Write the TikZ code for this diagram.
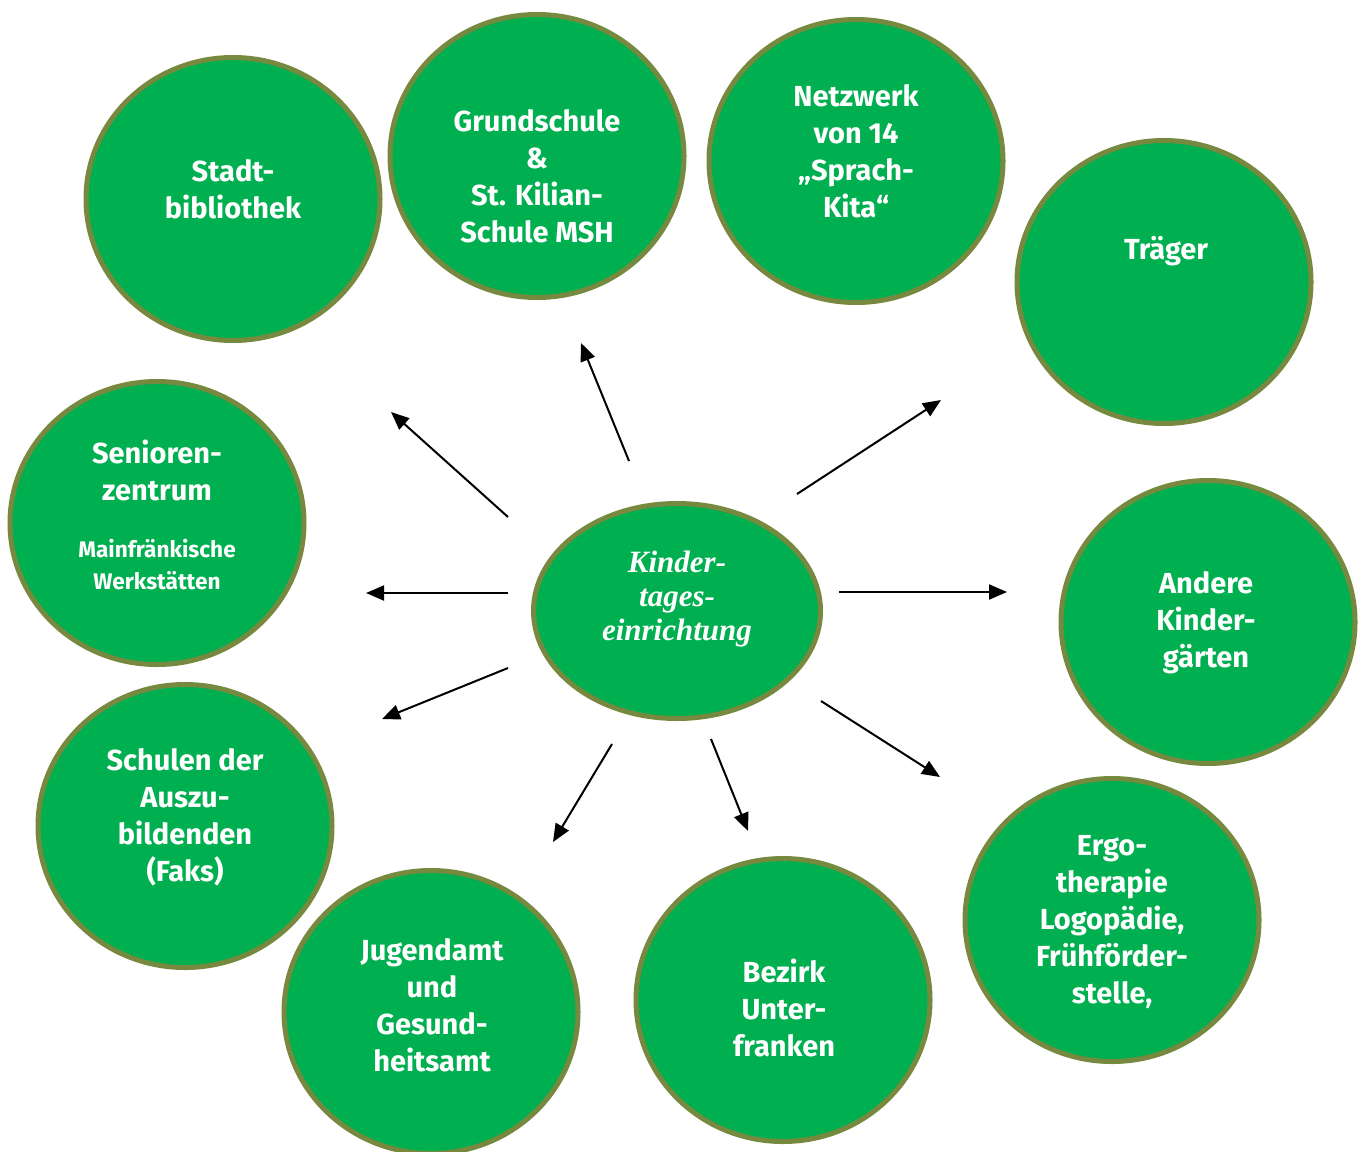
\documentclass[tikz,border=0pt]{standalone}
\usepackage{fontspec}
\setmainfont{Fira Sans}
\newfontfamily\centerfont{Liberation Serif}[BoldItalicFont={Liberation Serif Bold Italic}]
\usetikzlibrary{arrows.meta,shapes.geometric}
\definecolor{disc}{RGB}{0,176,80}
\definecolor{rim}{RGB}{118,137,62}
\tikzset{
  partner/.style={ellipse, fill=disc, draw=rim, line width=2.5pt, inner sep=0pt,
                  minimum width=147pt, minimum height=141.5pt},
  hub/.style={ellipse, fill=disc, draw=rim, line width=2.5pt, inner sep=0pt,
              minimum width=143.5pt, minimum height=107.5pt},
  ptext/.style={text=white, align=center, inner sep=0pt,
                font=\bfseries\fontsize{14.5}{18.5}\selectfont},
  smalltext/.style={text=white, align=center, inner sep=0pt,
                font=\bfseries\fontsize{11.3}{16}\selectfont},
  hubtext/.style={text=white, align=center, inner sep=0pt,
                font=\centerfont\bfseries\itshape\fontsize{15.5}{17.2}\selectfont},
  link/.style={line width=1pt, -{Triangle[length=9pt,width=7.5pt]}}
}
\begin{document}
\begin{tikzpicture}[x=0.5pt,y=-0.5pt]
\useasboundingbox (0,0) rectangle (1368,1151);
\fill[white] (0,0) rectangle (1368,1151);
\clip (0,0) rectangle (1368,1151);

% partner discs
\node[partner] (bib)   at (233,199)  {};
\node[partner] (gs)    at (537,156)  {};
\node[partner] (netz)  at (856,161)  {};
\node[partner] (trae)  at (1164,282) {};
\node[partner] (sen)   at (157,523)  {};
\node[partner] (andk)  at (1208,622) {};
\node[partner] (schul) at (185,826)  {};
\node[partner] (jug)   at (431,1012) {};
\node[partner] (bez)   at (783,1000) {};
\node[partner] (ergo)  at (1112,920) {};

% central institution
\node[hub] (kita) at (677,611) {};
\node[hubtext] (kitaT) at (677,599) {Kinder-\\tages-\\einrichtung};

% partner captions
\node[ptext] (bibT)   at (233,189)  {Stadt-\\bibliothek};
\node[ptext] (gsT)    at (537,176)  {Grundschule\\\&\\St. Kilian-\\Schule MSH};
\node[ptext] (netzT)  at (856,151)  {Netzwerk\\von 14\\„Sprach-\\Kita“};
\node[ptext] (traeT)  at (1166,251) {Träger};
\node[ptext] (senT)   at (157,470)  {Senioren-\\zentrum};
\node[smalltext] (werkT) at (157,565) {Mainfränkische\\Werkstätten};
\node[ptext] (andkT)  at (1206,623) {Andere\\Kinder-\\gärten};
\node[ptext] (schulT) at (185,817)  {Schulen der\\Auszu-\\bildenden\\(Faks)};
\node[ptext] (jugT)   at (432,1005) {Jugendamt\\und\\Gesund-\\heitsamt};
\node[ptext] (bezT)   at (784,1008) {Bezirk\\Unter-\\franken};
\node[ptext] (ergoT)  at (1112,922) {Ergo-\\therapie\\Logopädie,\\Frühförder-\\stelle,};

% arrow ends
\coordinate (s1) at (508,517);  \coordinate (e1) at (391,412);
\coordinate (s2) at (629,461);  \coordinate (e2) at (581,343);
\coordinate (s3) at (797,494);  \coordinate (e3) at (941,400);
\coordinate (s4) at (508,593);  \coordinate (e4) at (366,593);
\coordinate (s5) at (839,592);  \coordinate (e5) at (1007,592);
\coordinate (s6) at (508,668);  \coordinate (e6) at (382,719);
\coordinate (s7) at (612,744);  \coordinate (e7) at (553,842);
\coordinate (s8) at (711,739);  \coordinate (e8) at (748,831);
\coordinate (s9) at (821,701);  \coordinate (e9) at (940,777);

\foreach \i in {1,...,9} \draw[link] (s\i) -- (e\i);
\end{tikzpicture}
\end{document}
